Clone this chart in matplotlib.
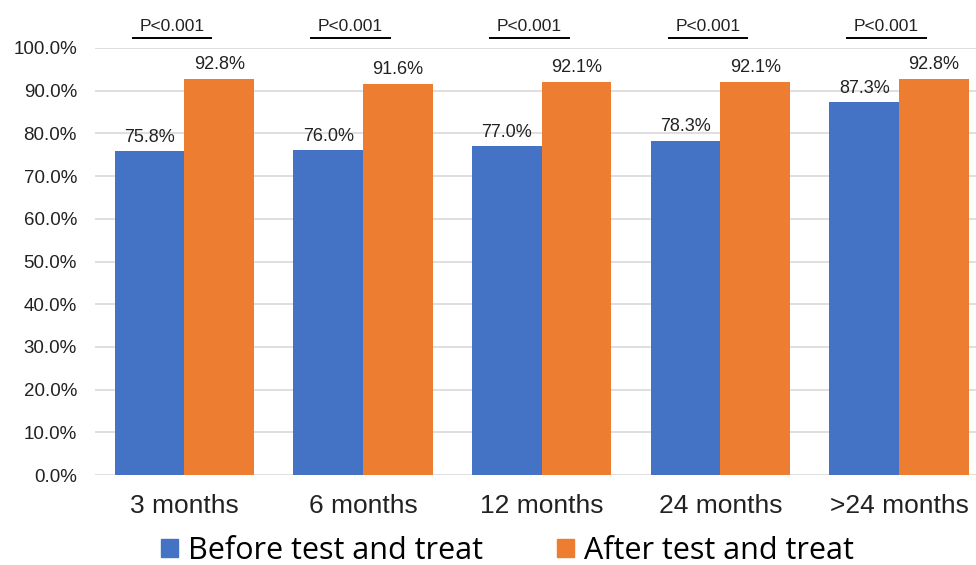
import matplotlib
matplotlib.use("Agg")
import matplotlib.pyplot as plt
from matplotlib.patches import Patch
import numpy as np

categories = ["3 months", "6 months", "12 months", "24 months", ">24 months"]
before = [75.8, 76.0, 77.0, 78.3, 87.3]
after = [92.8, 91.6, 92.1, 92.1, 92.8]
p_labels = ["P<0.001"] * 5
series_names = ["Before test and treat", "After test and treat"]
yticks = np.arange(0, 101, 10)

BLUE = "#4472C4"
ORANGE = "#ED7D31"

plt.rcParams["font.family"] = ["Liberation Sans", "DejaVu Sans"]

fig = plt.figure(figsize=(9.76, 5.65), dpi=100)
ax = fig.add_axes([95 / 976, 1 - 475 / 565, 1 - 95 / 976, (475 - 48) / 565])

x = np.arange(len(categories))
w = 0.39
b1 = ax.bar(x - w / 2, before, w, color=BLUE, zorder=3)
b2 = ax.bar(x + w / 2, after, w, color=ORANGE, zorder=3)

for rects, vals in ((b1, before), (b2, after)):
    for r, v in zip(rects, vals):
        ax.annotate(f"{v:.1f}%", (r.get_x() + r.get_width() / 2, v),
                    xytext=(0, 4), textcoords="offset points",
                    ha="center", va="bottom", fontsize=13, color="#222222")

# significance brackets above each group
for xi, p in zip(x, p_labels):
    cx = xi - 0.07
    ax.plot([cx - 0.22, cx + 0.22], [102.3, 102.3], color="black", lw=1.4,
            clip_on=False, zorder=4)
    ax.text(cx, 103.3, p, ha="center", va="bottom", fontsize=12.5,
            color="#222222", clip_on=False)

ax.set_xlim(-0.5, 4.43)
ax.set_ylim(0, 100)
ax.set_yticks(yticks)
ax.set_yticklabels([f"{t:.1f}%" for t in yticks], fontsize=13.5, color="#222222")
ax.set_xticks(x)
ax.set_xticklabels(categories, fontsize=19, color="#222222")
ax.tick_params(axis="y", length=0, pad=13)
ax.tick_params(axis="x", length=0, pad=14)
ax.yaxis.grid(True, color="#D9D9D9", lw=1.2, zorder=0)
for s in ax.spines.values():
    s.set_visible(False)

handles = [Patch(color=BLUE), Patch(color=ORANGE)]
fig.legend(handles, series_names, loc="center", bbox_to_anchor=(0.52, 1 - 551 / 565),
           ncol=2, frameon=False, prop={"family": "Open Sans", "size": 22},
           handlelength=0.55, handleheight=0.55, handletextpad=0.35, columnspacing=2.4)

fig.savefig("out.png", dpi=100)
